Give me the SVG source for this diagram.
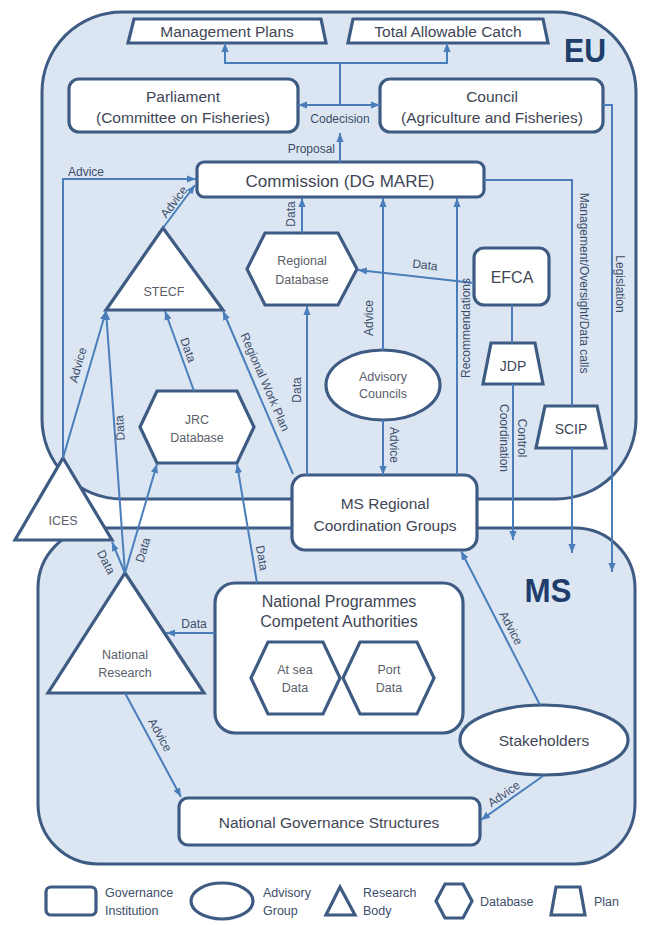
<svg xmlns="http://www.w3.org/2000/svg" width="663" height="925" viewBox="0 0 663 925">
<defs>
<style>
.cont{fill:#dce6f2;stroke:#3e5b84;stroke-width:3}
.node{fill:#ffffff;stroke:#3e5b84;stroke-width:3.2;stroke-linejoin:miter}
.c{fill:none;stroke:#4a7ebb;stroke-width:2}
.a{marker-end:url(#ah)}
.t{font-family:"Liberation Sans",Arial,sans-serif;fill:#404656;text-anchor:middle}
.big{font-size:15.5px}
.sm{font-size:12.5px;fill:#595e6a}
.lb{font-family:"Liberation Sans",Arial,sans-serif;font-size:12px;fill:#3d4e6a;text-anchor:middle}
.lg{font-family:"Liberation Sans",Arial,sans-serif;font-size:12.5px;fill:#3d4e6a}
.hd{font-family:"Liberation Sans",Arial,sans-serif;font-size:34px;font-weight:bold;fill:#1f3d6b;text-anchor:middle}
</style>
<marker id="ah" viewBox="0 0 10 10" refX="10" refY="5" markerWidth="9" markerHeight="9" markerUnits="userSpaceOnUse" orient="auto-start-reverse"><path d="M0,1 L10,5 L0,9 z" fill="#4a7ebb"/></marker>
</defs>
<rect width="663" height="925" fill="#ffffff"/>
<g id="containers">
<rect id="EU" class="cont" x="42" y="12" width="594" height="487" rx="80" ry="80"/>
<rect id="MS" class="cont" x="38" y="528" width="597" height="336" rx="60" ry="60"/>
<text class="hd" x="585" y="62" textLength="42" lengthAdjust="spacingAndGlyphs">EU</text>
<text class="hd" x="548" y="602" textLength="47" lengthAdjust="spacingAndGlyphs">MS</text>
</g>
<g id="n-mp"><polygon class="node" points="134,19 321,19 326,43 128,43"/><text class="t big" x="227" y="37">Management Plans</text></g>
<g id="n-tac"><polygon class="node" points="353,19 543,19 548,43 348,43"/><text class="t big" x="448" y="37">Total Allowable Catch</text></g>
<g id="n-parl"><rect class="node" x="69" y="79" width="229" height="53" rx="10"/><text class="t big" x="183" y="102">Parliament</text><text class="t big" x="183" y="123">(Committee on Fisheries)</text></g>
<g id="n-council"><rect class="node" x="380" y="79" width="223" height="53" rx="10"/><text class="t big" x="492" y="102">Council</text><text class="t big" x="492" y="123">(Agriculture and Fisheries)</text></g>
<g id="n-comm"><rect class="node" x="197" y="162" width="287" height="35" rx="7"/><text class="t" style="font-size:17px" x="340" y="187">Commission (DG MARE)</text></g>
<g id="n-stecf"><polygon class="node" points="163,228 223,310 106,310"/><text class="t sm" x="164" y="296">STECF</text></g>
<g id="n-regdb"><polygon class="node" points="247,269 265,233 338,233 357,269 338,305 265,305"/><text class="t sm" x="302" y="265">Regional</text><text class="t sm" x="302" y="284">Database</text></g>
<g id="n-efca"><rect class="node" x="474" y="248" width="75" height="57" rx="10"/><text class="t" style="font-size:16px" x="512" y="283">EFCA</text></g>
<g id="n-jdp"><polygon class="node" points="491,343 535,343 543,384 483,384"/><text class="t" style="font-size:14px" x="513" y="371">JDP</text></g>
<g id="n-scip"><polygon class="node" points="545,406 597,406 606,448 536,448"/><text class="t" style="font-size:14px" x="571" y="434">SCIP</text></g>
<g id="n-adv"><ellipse class="node" cx="383" cy="385" rx="57" ry="35"/><text class="t sm" x="383" y="381">Advisory</text><text class="t sm" x="383" y="398">Councils</text></g>
<g id="n-jrc"><polygon class="node" points="140,427 157,391 237,391 254,427 237,463 157,463"/><text class="t sm" x="197" y="424">JRC</text><text class="t sm" x="197" y="442">Database</text></g>
<g id="n-ices"><polygon class="node" points="63,458 112,540 15,540"/><text class="t sm" x="63" y="525">ICES</text></g>
<g id="n-msrcg"><rect class="node" x="292" y="475" width="185" height="75" rx="13"/><text class="t big" x="385" y="509">MS Regional</text><text class="t big" x="385" y="531">Coordination Groups</text></g>
<g id="n-nr"><polygon class="node" points="125,573 204,693 48,693"/><text class="t sm" x="125" y="659">National</text><text class="t sm" x="125" y="677">Research</text></g>
<g id="n-np"><rect class="node" x="215" y="583" width="248" height="150" rx="20"/><text class="t" style="font-size:16px" x="339" y="607">National Programmes</text><text class="t" style="font-size:16px" x="339" y="627">Competent Authorities</text></g>
<g id="n-atsea"><polygon class="node" points="251,678 268,642 323,642 340,678 323,714 268,714"/><text class="t sm" x="295" y="674">At sea</text><text class="t sm" x="295" y="692">Data</text></g>
<g id="n-port"><polygon class="node" points="343,678 360,642 417,642 434,678 417,714 360,714"/><text class="t sm" x="389" y="674">Port</text><text class="t sm" x="389" y="692">Data</text></g>
<g id="n-stake"><ellipse class="node" cx="544" cy="740" rx="84" ry="35"/><text class="t big" x="544" y="746">Stakeholders</text></g>
<g id="n-ngs"><rect class="node" x="179" y="798" width="301" height="47" rx="9"/><text class="t big" x="329" y="828">National Governance Structures</text></g>
<g id="connectors">
<path class="c" d="M225,43 V63 H447 V43" marker-start="url(#ah)" marker-end="url(#ah)"/>
<path class="c" d="M340,105 V63"/>
<path class="c" d="M298,105 H380" marker-start="url(#ah)" marker-end="url(#ah)"/>
<path class="c a" d="M340,162 V133"/>
<path class="c a" d="M63,458 V179 H196"/>
<path class="c a" d="M163,228 L195,185"/>
<path class="c a" d="M302,233 V198"/>
<path class="c a" d="M383,350 V198"/>
<path class="c a" d="M457,475 V198"/>
<path class="c" d="M484,180 H572 V406"/>
<path class="c a" d="M572,448 V553"/>
<path class="c a" d="M603,105 H612 V572"/>
<path class="c a" d="M474,283 L358,270"/>
<path class="c" d="M512,305 V343"/>
<path class="c a" d="M513,384 V540"/>
<path class="c a" d="M383,420 V475"/>
<path class="c a" d="M307,475 V306"/>
<path class="c a" d="M293,474 L223,311"/>
<path class="c a" d="M194,391 L165,311"/>
<path class="c a" d="M63,458 L106,311"/>
<path class="c a" d="M125,573 L106,311"/>
<path class="c a" d="M125,573 L112,542"/>
<path class="c a" d="M125,573 L157,464"/>
<path class="c a" d="M257,583 L237,464"/>
<path class="c a" d="M215,633 H166"/>
<path class="c a" d="M125,693 L181,797"/>
<path class="c a" d="M540,705 L461,551"/>
<path class="c a" d="M543,776 L481,820"/>
</g>
<g id="labels">
<text class="lb" x="340" y="123">Codecision</text>
<text class="lb" x="335" y="153" style="text-anchor:end">Proposal</text>
<text class="lb" x="86" y="176">Advice</text>
<text class="lb" transform="translate(174,202) rotate(-53)" y="4">Advice</text>
<text class="lb" transform="translate(291,214) rotate(-90)" y="4">Data</text>
<text class="lb" transform="translate(369,318) rotate(-90)" y="4">Advice</text>
<text class="lb" transform="translate(466,328) rotate(-90)" y="4">Recommendations</text>
<text class="lb" transform="translate(584,283) rotate(90)" y="4">Management/Oversight/Data calls</text>
<text class="lb" transform="translate(620,284) rotate(90)" y="4">Legislation</text>
<text class="lb" transform="translate(425,265) rotate(6.4)" y="4">Data</text>
<text class="lb" transform="translate(513,438) rotate(90)"><tspan x="0" y="-5">Control</tspan><tspan x="0" y="13">Coordination</tspan></text>
<text class="lb" transform="translate(394,445) rotate(90)" y="4">Advice</text>
<text class="lb" transform="translate(297,390) rotate(-90)" y="4">Data</text>
<text class="lb" transform="translate(265,382) rotate(66.5)" y="4">Regional Work Plan</text>
<text class="lb" transform="translate(188,350) rotate(70)" y="4">Data</text>
<text class="lb" transform="translate(78,365) rotate(-74)" y="4">Advice</text>
<text class="lb" transform="translate(120,428) rotate(-94)" y="4">Data</text>
<text class="lb" transform="translate(106,562) rotate(63)" y="4">Data</text>
<text class="lb" transform="translate(143,550) rotate(-73.5)" y="4">Data</text>
<text class="lb" transform="translate(262,558) rotate(80)" y="4">Data</text>
<text class="lb" x="194" y="628">Data</text>
<text class="lb" transform="translate(160,735) rotate(61)" y="4">Advice</text>
<text class="lb" transform="translate(511,628) rotate(62.4)" y="4">Advice</text>
<text class="lb" transform="translate(504,794) rotate(-35)" y="4">Advice</text>
</g>
<g id="legend">
<rect class="node" x="46" y="887" width="50" height="28" rx="5"/>
<text class="lg" x="105" y="897">Governance</text><text class="lg" x="105" y="915">Institution</text>
<ellipse class="node" cx="222" cy="901" rx="31" ry="18"/>
<text class="lg" x="263" y="897">Advisory</text><text class="lg" x="263" y="915">Group</text>
<polygon class="node" points="340,887 355,915 326,915"/>
<text class="lg" x="363" y="897">Research</text><text class="lg" x="363" y="915">Body</text>
<polygon class="node" points="436,901 445,884 463,884 472,901 463,918 445,918"/>
<text class="lg" x="480" y="906">Database</text>
<polygon class="node" points="556,887 580,887 585,915 551,915"/>
<text class="lg" x="594" y="906">Plan</text>
</g>
</svg>
